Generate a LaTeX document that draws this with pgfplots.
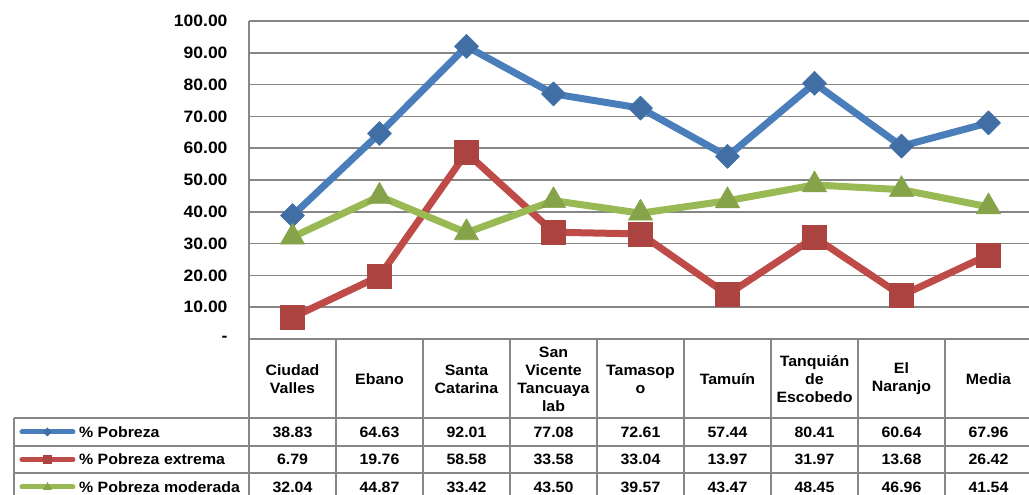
\documentclass[border=0pt]{standalone}
\usepackage{fontspec}
\setmainfont{Liberation Sans}[FakeStretch=1.06]
\usepackage{pgfplots}
\usepackage{pgfplotstable}
\pgfplotsset{compat=1.18}
\definecolor{cblue}{RGB}{74,126,187}
\definecolor{cred}{RGB}{190,75,72}
\definecolor{cgreen}{RGB}{152,185,84}
\definecolor{gridc}{RGB}{134,134,134}
\pgfplotstableread{
x pob ext mod
0 38.83 6.79 32.04
1 64.63 19.76 44.87
2 92.01 58.58 33.42
3 77.08 33.58 43.50
4 72.61 33.04 39.57
5 57.44 13.97 43.47
6 80.41 31.97 48.45
7 60.64 13.68 46.96
8 67.96 26.42 41.54
}\datatable
\begin{document}
\begin{tikzpicture}
\begin{axis}[
  scale only axis, width=783pt, height=318pt,
  xmin=-0.5, xmax=8.5, ymin=0, ymax=100,
  clip=false,
  axis x line=bottom, axis y line=left,
  axis line style={gridc, line width=1.5pt, -},
  xtick=\empty,
  ytick={0,10,...,100},
  yticklabels={-\hspace{12pt},10.00,20.00,30.00,40.00,50.00,60.00,70.00,80.00,90.00,100.00},
  major tick length=0pt,
  yticklabel style={font=\fontsize{16.5}{19}\selectfont\bfseries, xshift=-18pt},
  ymajorgrids, grid style={gridc, line width=1.5pt},
  line join=round,
]
\addplot[cblue, line width=7pt, mark=square*, mark size=8.5pt,
  mark options={rotate=45, line width=0.6pt, fill=cblue!88!black, draw=cblue!88!black}] table[x=x,y=pob]{\datatable};
\addplot[cred, line width=7pt, mark=square*, mark size=12pt,
  mark options={line width=0.6pt, fill=cred!90!black, draw=cred!90!black}] table[x=x,y=ext]{\datatable};
\addplot[cgreen, line width=7pt, mark=triangle*, mark size=14pt,
  mark options={line width=0.6pt, fill=cgreen!88!black, draw=cgreen!88!black}] table[x=x,y=mod]{\datatable};
\end{axis}
% data table below the plot
\begin{scope}[gridc, line width=1.5pt]
  \draw (-235pt,-79pt) -- (783pt,-79pt);
  \draw (-235pt,-107pt) -- (783pt,-107pt);
  \draw (-235pt,-134pt) -- (783pt,-134pt);
  \draw (-235pt,-79pt) -- (-235pt,-160pt);
  \foreach \k in {0,...,9} { \draw (87*\k pt,0pt) -- (87*\k pt,-160pt); }
\end{scope}
\begin{scope}[every node/.style={font=\fontsize{15}{18}\selectfont\bfseries, align=center, inner sep=0pt}]
  \foreach \t [count=\i from 0] in {Ciudad\\Valles, Ebano, Santa\\Catarina, San\\Vicente\\Tancuaya\\lab, Tamasop\\o, Tamuín, Tanquián\\de\\Escobedo, El\\Naranjo, Media}
    { \node at (87*\i pt+43.5pt,-40pt) {\t}; }
  \foreach \v [count=\i from 0] in {38.83,64.63,92.01,77.08,72.61,57.44,80.41,60.64,67.96}
    { \node at (87*\i pt+43.5pt,-93pt) {\v}; }
  \foreach \v [count=\i from 0] in {6.79,19.76,58.58,33.58,33.04,13.97,31.97,13.68,26.42}
    { \node at (87*\i pt+43.5pt,-120.5pt) {\v}; }
  \foreach \v [count=\i from 0] in {32.04,44.87,33.42,43.50,39.57,43.47,48.45,46.96,41.54}
    { \node at (87*\i pt+43.5pt,-148pt) {\v}; }
  \node[anchor=west] at (-170pt,-93pt) {\% Pobreza};
  \node[anchor=west] at (-170pt,-120.5pt) {\% Pobreza extrema};
  \node[anchor=west] at (-170pt,-148pt) {\% Pobreza moderada};
\end{scope}
% legend keys
\draw[cblue, line width=5pt, line cap=round] (-227pt,-93pt) -- (-176pt,-93pt);
\fill[cblue!88!black] (-201.5pt,-93pt) +(0,4.5pt) -- +(4.5pt,0) -- +(0,-4.5pt) -- +(-4.5pt,0) -- cycle;
\draw[cred, line width=5pt, line cap=round] (-227pt,-120.5pt) -- (-176pt,-120.5pt);
\fill[cred!90!black] (-201.5pt,-120.5pt) +(-4.5pt,-4.5pt) rectangle +(4.5pt,4.5pt);
\draw[cgreen, line width=5pt, line cap=round] (-227pt,-148pt) -- (-176pt,-148pt);
\fill[cgreen!88!black] (-201.5pt,-148pt) +(0,5pt) -- +(4.5pt,-3pt) -- +(-4.5pt,-3pt) -- cycle;
\pgfresetboundingbox
\path (-249pt,-156pt) rectangle (780pt,339pt);
\end{tikzpicture}
\end{document}
